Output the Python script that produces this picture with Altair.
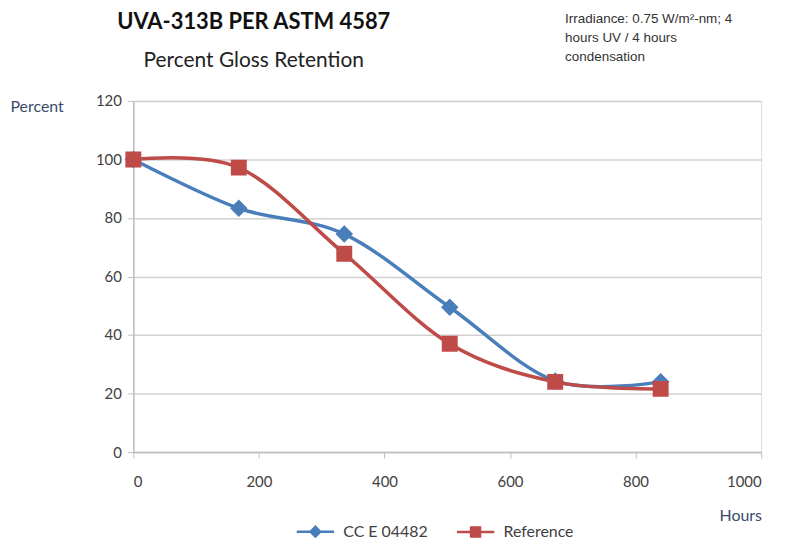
import altair as alt
import pandas as pd

hours = [0, 168, 336, 504, 672, 840]
cc_e_04482 = [100, 83.3, 74.5, 49.5, 24.3, 24.0]
reference = [100, 97.2, 67.8, 37.0, 24.0, 21.6]
series_names = ["CC E 04482", "Reference"]
colors = ["#4A7EBB", "#BE4B48"]

rows = []
for h, v in zip(hours, cc_e_04482):
    rows.append({"Hours": h, "Percent": v, "Series": series_names[0]})
for h, v in zip(hours, reference):
    rows.append({"Hours": h, "Percent": v, "Series": series_names[1]})
df = pd.DataFrame(rows)

# marker paths; the zero-area horizontal segments only show in the legend (stroked there)
diamond = "M-4.2,0H-1.1M1.1,0H4.2M0,-1.1L1.1,0L0,1.1L-1.1,0Z"
square = "M-4.2,0H-1M1,0H4.2M-1,-1H1V1H-1Z"

font = "Lato"
color_scale = alt.Scale(domain=series_names, range=colors)
shape_scale = alt.Scale(domain=series_names, range=[diamond, square])

legend = alt.Legend(orient="none", legendX=175, legendY=425,
                    direction="horizontal", title=None,
                    labelFont=font, labelFontSize=16, labelColor="#404040",
                    symbolSize=80, symbolStrokeWidth=2.5,
                    columnPadding=24, labelOffset=20)

x_enc = alt.X("Hours:Q",
              scale=alt.Scale(domain=[0, 1000], nice=False),
              axis=alt.Axis(values=[0, 200, 400, 600, 800, 1000], grid=False, format="d",
                            title="Hours", titleX=610, titleY=64, titleAlign="center",
                            titleBaseline="middle", titleFontWeight="normal",
                            titleFont=font, titleFontSize=16, titleColor="#3a4a6a",
                            labelFont=font, labelFontSize=15, labelColor="#404040",
                            labelPadding=17, tickSize=6, tickColor="#bfbfbf",
                            domainColor="#bfbfbf", domainWidth=1.5))
y_enc = alt.Y("Percent:Q",
              scale=alt.Scale(domain=[0, 120], nice=False),
              axis=alt.Axis(values=[0, 20, 40, 60, 80, 100, 120], grid=True,
                            gridColor="#d0d0d0", gridWidth=1.5,
                            title="Percent", titleAngle=0, titleX=-124, titleY=6,
                            titleAlign="left", titleBaseline="middle",
                            titleFontWeight="normal", titleFont=font, titleFontSize=16,
                            titleColor="#3a4a6a",
                            labelFont=font, labelFontSize=15, labelColor="#404040",
                            labelPadding=6, tickSize=6, tickColor="#bfbfbf",
                            domainColor="#bfbfbf", domainWidth=1.5))

lines = alt.Chart(df).mark_line(interpolate="cardinal", tension=0, strokeWidth=3.5).encode(
    x=x_enc, y=y_enc,
    color=alt.Color("Series:N", scale=color_scale, legend=legend),
    detail="Series:N",
)

points = alt.Chart(df).mark_point(filled=True, opacity=1, size=256, strokeWidth=0).encode(
    x="Hours:Q", y="Percent:Q",
    color=alt.Color("Series:N", scale=color_scale, legend=legend),
    shape=alt.Shape("Series:N", scale=shape_scale, legend=legend),
)

one = pd.DataFrame({"k": [0]})

title1 = alt.Chart(one).mark_text(
    text="UVA-313B PER ASTM 4587", font=font, fontSize=22, fontWeight="bold",
    color="#111111", align="center", baseline="middle"
).encode(x=alt.value(121), y=alt.value(-79))

title2 = alt.Chart(one).mark_text(
    text="Percent Gloss Retention", font=font, fontSize=21,
    color="#222222", align="center", baseline="middle"
).encode(x=alt.value(121), y=alt.value(-40))

note = alt.Chart(one).mark_text(
    text=["Irradiance: 0.75 W/m²-nm; 4", "hours UV / 4 hours", "condensation"],
    font="Liberation Sans", fontSize=13.5, lineHeight=19, color="#333333",
    align="left", baseline="top"
).encode(x=alt.value(434), y=alt.value(-89))

chart = alt.layer(lines, points, title1, title2, note).properties(
    width=631, height=353,
    autosize=alt.AutoSizeParams(type="none"),
    padding={"left": 126, "top": 92, "right": 20, "bottom": 90},
).configure_view(stroke=None).configure(background="white")

chart.save("out.html", embed_options={"renderer": "svg", "actions": False})
